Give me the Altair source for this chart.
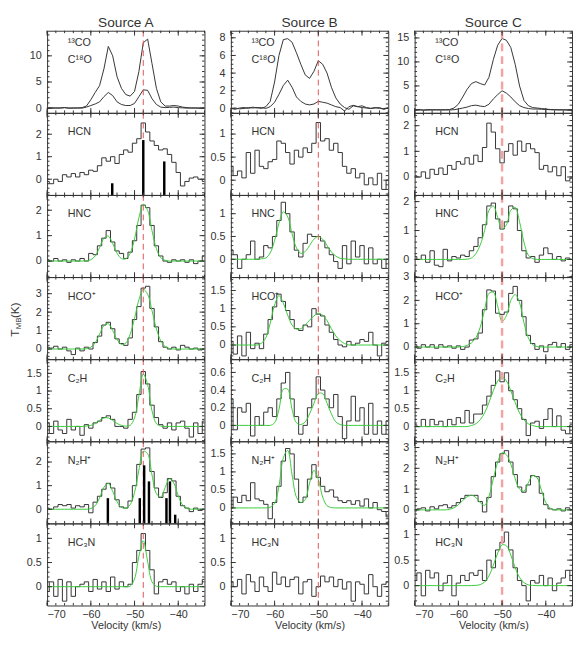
import altair as alt
import numpy as np
import pandas as pd

# channel centres (km/s)
VEL = list(range(-70, -33))

# ---------------- Source A ----------------
A_13CO = [0.0, 0.1, 0.0, 0.05, 0.1, 0.0, 0.05, 0.0, 0.1, 0.4,
          1.6, 3.0, 4.3, 7.5, 11.8, 10.0, 6.0, 3.8, 2.6, 2.3,
          3.2, 7.0, 12.5, 13.2, 8.5, 3.8, 1.2, 0.4, 0.4, 0.5,
          0.4, 0.2, 0.1, 0.0, 0.05, 0.0, 0.0]
A_C18O = [0.0, -0.05, 0.05, 0.0, 0.1, 0.0, 0.0, 0.05, 0.0, 0.2,
          0.5, 0.8, 1.2, 2.2, 3.0, 2.4, 1.2, 0.7, 0.5, 0.5,
          0.9, 2.2, 3.5, 3.4, 1.8, 0.7, 0.2, 0.1, 0.15, 0.2,
          0.1, 0.05, 0.0, 0.05, 0.0, 0.0, 0.05]
A_HCN = [-0.1, -0.2, 0.0, -0.1, 0.2, 0.1, 0.25, 0.1, 0.3, 0.2,
         0.4, 0.35, 0.6, 0.95, 0.8, 1.0, 0.7, 1.1, 1.3, 1.2,
         1.6, 1.8, 2.5, 2.1, 1.7, 1.5, 1.3, 1.35, 1.1, 0.75,
         0.3, -0.3, -0.1, 0.05, 0.1, 0.0, -0.1]
A_HNC = [0.05, 0.0, 0.1, 0.0, 0.05, -0.05, 0.05, 0.0, 0.1, 0.0,
         0.3, 0.25, 0.6, 0.9, 1.2, 0.75, 0.4, 0.3, 0.1, 0.35,
         0.8, 1.4, 2.2, 2.1, 1.4, 0.6, 0.2, 0.0, -0.05, 0.05,
         0.0, 0.05, -0.05, 0.05, -0.1, 0.0, 0.2]
A_HNC_FIT = [0, 0, 0, 0, 0, 0, 0, 0, 0, 0.01,
             0.05, 0.2, 0.53, 0.9, 0.98, 0.69, 0.31, 0.1, 0.09, 0.3,
             0.87, 1.7, 2.23, 1.99, 1.19, 0.49, 0.13, 0.03, 0, 0,
             0, 0, 0, 0, 0, 0, 0]
A_HCOP = [0.1, 0.05, 0.15, 0.0, 0.1, -0.1, -0.3, 0.05, -0.1, 0.1,
          0.0, 0.35, 0.7, 1.3, 1.45, 1.1, 0.55, 0.3, 0.2, 0.6,
          1.6, 2.3, 3.3, 3.4, 2.2, 1.2, 0.4, 0.1, 0.0, 0.1,
          -0.05, 0.2, 0.1, 0.0, 0.05, -0.05, 0.0]
A_HCOP_FIT = [0, 0, 0, 0, 0, 0, 0, 0, 0, 0.02,
              0.1, 0.34, 0.8, 1.27, 1.37, 1.01, 0.52, 0.25, 0.32, 0.8,
              1.66, 2.67, 3.23, 2.97, 2.08, 1.1, 0.44, 0.13, 0.03, 0,
              0, 0, 0, 0, 0, 0, 0]
A_C2H = [0.1, -0.2, 0.15, -0.1, -0.2, 0.2, -0.1, 0.0, -0.25, 0.05,
         -0.05, 0.1, 0.15, 0.25, 0.3, 0.2, 0.0, 0.0, -0.05, 0.2,
         0.4, 0.9, 1.55, 1.2, 0.6, 0.25, 0.05, -0.05, 0.1, -0.1,
         0.1, 0.15, -0.05, -0.3, 0.1, -0.2, 0.15]
A_C2H_FIT = [0, 0, 0, 0, 0, 0, 0, 0, 0, 0.01,
             0.03, 0.085, 0.17, 0.24, 0.24, 0.17, 0.085, 0.03, 0.01, 0.03,
             0.24, 0.87, 1.48, 1.18, 0.44, 0.08, 0.01, 0, 0, 0,
             0, 0, 0, 0, 0, 0, 0]
A_N2HP = [0.05, 0.0, 0.1, 0.2, 0.15, 0.2, 0.05, 0.15, 0.1, 0.2,
          -0.15, 0.3, 0.55, 0.85, 1.1, 0.9, 0.4, 0.1, 0.05, 0.35,
          1.0, 1.9, 2.55, 2.6, 1.6, 0.9, 0.5, 0.7, 1.3, 1.2,
          0.55, 0.15, 0.05, -0.1, 0.05, -0.05, 0.0]
A_N2HP_FIT = [0, 0, 0, 0, 0, 0, 0, 0, 0, 0,
              0.03, 0.15, 0.48, 0.93, 1.09, 0.76, 0.32, 0.08, 0.05, 0.19,
              0.71, 1.66, 2.46, 2.35, 1.45, 0.66, 0.52, 0.92, 1.29, 1.1,
              0.57, 0.18, 0.03, 0, 0, 0, 0]
A_HC3N = [-0.1, 0.1, -0.2, 0.15, -0.3, 0.1, -0.2, 0.0, 0.05, 0.1,
          -0.1, 0.15, -0.05, 0.1, -0.1, 0.2, -0.05, 0.1, 0.0, 0.05,
          0.5, 0.75, 1.1, 0.75, 0.35, -0.15, 0.1, 0.15, 0.05, 0.1,
          -0.1, 0.0, -0.15, 0.05, -0.1, 0.05, 0.15]
A_HC3N_FIT = [0, 0, 0, 0, 0, 0, 0, 0, 0, 0,
              0, 0, 0, 0, 0, 0, 0, 0, 0, 0.01,
              0.16, 0.63, 0.95, 0.52, 0.1, 0.01, 0, 0, 0, 0,
              0, 0, 0, 0, 0, 0, 0]
# hyperfine components (velocity, height)
A_HCN_HFS_V = [-55.1, -48.0, -43.2]
A_HCN_HFS_T = [-0.18, 1.74, 0.79]
A_N2HP_HFS_V = [-56.1, -48.8, -47.8, -46.7, -42.7, -41.9, -40.7]
A_N2HP_HFS_T = [0.47, 0.47, 1.86, 1.18, 0.47, 1.18, -0.23]

# ---------------- Source B ----------------
B_13CO = [0.0, 0.05, -0.05, 0.0, 0.1, 0.05, 0.1, 0.0, 0.2, 0.8,
          3.0, 6.0, 7.8, 7.9, 7.5, 6.3, 5.0, 3.8, 3.4, 4.2,
          5.4, 5.0, 4.0, 2.4, 1.2, 0.5, 0.1, -0.1, 0.3, 0.2,
          0.1, 0.05, 0.0, 0.1, 0.0, -0.05, 0.1]
B_C18O = [0.0, -0.1, 0.05, 0.1, 0.0, 0.15, 0.05, 0.1, 0.0, 0.2,
          0.7, 1.6, 2.6, 3.2, 2.4, 1.3, 0.8, 0.5, 0.4, 0.5,
          0.8, 0.7, 0.6, 0.4, 0.2, 0.1, -0.3, 0.2, 0.35, 0.2,
          0.3, 0.1, 0.0, 0.05, 0.1, -0.1, 0.05]
B_HCN = [0.3, 0.1, 0.2, 0.05, 0.6, 0.15, 0.65, 0.3, 0.25, 0.4,
         0.45, 0.85, 0.8, 0.6, 0.35, 0.65, 0.5, 0.7, 0.6, 0.8,
         1.25, 0.85, 0.9, 0.65, 0.8, 0.6, 0.3, 0.15, 0.25, 0.05,
         0.15, -0.1, 0.05, -0.1, 0.15, -0.2, 0.0]
B_HNC = [0.2, 0.1, -0.2, 0.0, 0.1, 0.4, 0.0, 0.05, 0.3, 0.25,
         0.5, 0.85, 1.25, 1.0, 0.6, 0.2, 0.05, 0.35, 0.55, 0.5,
         0.5, 0.4, 0.25, 0.1, -0.05, -0.2, 0.3, -0.1, 0.4, 0.05,
         0.3, -0.1, 0.25, -0.1, 0.0, -0.2, 0.0]
B_HNC_FIT = [0, 0, 0, 0, 0, 0, 0, 0.01, 0.03, 0.14,
             0.41, 0.79, 1.04, 0.93, 0.56, 0.25, 0.13, 0.17, 0.3, 0.44,
             0.5, 0.44, 0.3, 0.16, 0.07, 0.02, 0.01, 0, 0, 0,
             0, 0, 0, 0, 0, 0, 0]
B_HCOP = [0.1, -0.25, 0.25, -0.3, 0.35, -0.1, 0.05, -0.1, 0.3, 0.7,
          1.05, 1.4, 1.2, 0.95, 0.7, 0.45, 0.4, 0.55, 0.5, 1.0,
          0.85, 0.8, 0.55, 0.35, 0.15, 0.0, -0.05, 0.1, 0.0, 0.05,
          0.15, 0.1, 0.35, 0.0, -0.3, 0.05, 0.1]
B_HCOP_FIT = [0, 0, 0, 0, 0, 0, 0, 0.05, 0.2, 0.6,
              1.1, 1.36, 1.15, 0.82, 0.55, 0.44, 0.45, 0.55, 0.68, 0.8,
              0.87, 0.82, 0.67, 0.45, 0.25, 0.12, 0.04, 0, 0, 0,
              0, 0, 0, 0, 0, 0, 0]
B_C2H = [0.3, -0.05, 0.2, 0.15, 0.25, -0.12, 0.1, 0.0, 0.15, 0.2,
         0.1, 0.3, 0.48, 0.6, 0.3, 0.1, -0.1, 0.0, 0.2, 0.3,
         0.55, 0.4, 0.3, 0.2, 0.35, 0.1, -0.15, 0.05, 0.33, 0.05,
         0.2, -0.1, 0.25, -0.1, 0.05, -0.1, 0.05]
B_C2H_FIT = [0, 0, 0, 0, 0, 0, 0, 0, 0, 0,
             0.03, 0.18, 0.41, 0.41, 0.18, 0.03, 0.01, 0.04, 0.13, 0.25,
             0.36, 0.36, 0.25, 0.13, 0.04, 0.01, 0, 0, 0, 0,
             0, 0, 0, 0, 0, 0, 0]
B_N2HP = [0.0, 0.3, 0.15, 0.35, 0.2, 0.7, 0.25, 0.2, 0.1, -0.3,
          0.15, 0.6, 1.3, 1.65, 1.5, 0.8, 0.15, 0.3, 0.8, 1.2,
          0.85, 0.6, 0.45, 0.5, 0.3, 0.2, 0.15, 0.2, 0.1, 0.2,
          0.05, 0.25, 0.0, 0.15, -0.05, -0.1, -0.25]
B_N2HP_FIT = [0, 0, 0, 0, 0, 0, 0, 0, 0, 0.02,
              0.13, 0.6, 1.39, 1.6, 0.92, 0.3, 0.15, 0.23, 0.69, 1.04,
              0.79, 0.3, 0.06, 0.01, 0, 0, 0, 0, 0, 0,
              0, 0, 0, 0, 0, 0, 0]
B_HC3N = [0.1, 0.0, 0.15, -0.15, 0.25, 0.1, -0.1, 0.2, 0.0, -0.1,
          0.3, 0.05, 0.2, 0.0, 0.15, 0.2, -0.15, 0.1, 0.15, -0.2,
          0.0, 0.22, 0.1, 0.2, 0.0, 0.15, -0.05, 0.1, -0.3, 0.1,
          0.05, -0.15, 0.25, 0.0, -0.2, 0.05, 0.1]

# ---------------- Source C ----------------
C_13CO = [0.0, 0.05, -0.05, 0.1, 0.0, 0.05, 0.0, 0.05, 0.1, 0.4,
          1.2, 2.7, 4.3, 5.5, 5.9, 5.5, 5.2, 6.8, 10.5, 13.5,
          14.9, 14.5, 13.0, 9.5, 5.0, 2.0, 0.9, 0.5, 0.4, 0.3,
          0.2, 0.1, 0.1, 0.0, 0.05, 0.0, 0.0]
C_C18O = [0.0, 0.05, 0.0, -0.05, 0.05, 0.0, 0.05, 0.0, 0.0, 0.05,
          0.2, 0.4, 0.6, 0.9, 1.0, 0.8, 0.7, 1.2, 2.3, 3.2,
          4.0, 3.5, 2.7, 1.7, 0.9, 0.5, 0.3, 0.2, 0.2, 0.15,
          0.1, 0.05, 0.0, 0.05, 0.0, 0.0, 0.0]
C_HCN = [0.05, 0.0, 0.2, -0.05, 0.3, 0.1, 0.35, 0.1, 0.45, 0.3,
         0.6, 0.5, 0.75, 0.5, 0.85, 0.6, 1.15, 2.1, 1.75, 1.1,
         0.55, 1.0, 1.3, 0.85, 1.4, 1.0, 1.3, 1.1, 0.95, 0.3,
         0.45, 0.2, 0.4, 0.05, 0.4, -0.15, -0.05]
C_HNC = [0.1, 0.0, 0.15, -0.1, 0.3, -0.2, -0.25, 0.35, -0.05, 0.1,
         0.05, 0.15, 0.1, 0.3, 0.45, 0.75, 1.2, 1.85, 1.95, 1.4,
         1.05, 1.3, 1.85, 1.75, 1.0, 0.3, 0.05, 0.1, -0.1, 0.15,
         0.4, 0.2, 0.0, 0.1, -0.05, 0.05, 0.0]
C_HNC_FIT = [0, 0, 0, 0, 0, 0, 0, 0, 0, 0,
             0, 0, 0.01, 0.05, 0.2, 0.5, 1.0, 1.7, 1.85, 1.45,
             1.05, 1.2, 1.7, 1.8, 1.3, 0.6, 0.15, 0.03, 0, 0,
             0, 0, 0, 0, 0, 0, 0]
C_HCOP = [0.1, -0.05, 0.1, 0.0, 0.1, -0.05, 0.1, 0.0, 0.05, -0.05,
          0.05, -0.1, 0.0, 0.3, 0.35, 0.6, 1.6, 2.45, 2.4, 1.45,
          1.4, 1.5, 2.3, 2.6, 2.0, 1.3, 0.5, 0.15, -0.1, 0.05,
          -0.2, 0.1, 0.2, 0.0, 0.15, -0.1, 0.1]
C_HCOP_FIT = [0, 0, 0, 0, 0, 0, 0, 0, 0, 0,
              0, 0.02, 0.07, 0.18, 0.4, 0.85, 1.6, 2.3, 2.35, 1.75,
              1.1, 1.35, 2.0, 2.25, 1.9, 1.05, 0.4, 0.1, 0.02, 0,
              0, 0, 0, 0, 0, 0, 0]
C_C2H = [0.05, 0.0, 0.2, 0.0, 0.2, 0.05, 0.15, 0.0, 0.2, 0.05,
         0.25, 0.1, 0.45, 0.1, 0.35, 0.35, 0.6, 0.85, 1.15, 1.55,
         1.25, 1.5, 1.0, 0.75, 0.5, 0.2, -0.25, 0.1, 0.15, -0.05,
         0.2, 0.5, 0.0, 0.3, -0.1, -0.2, 0.05]
C_C2H_FIT = [0, 0, 0, 0, 0, 0, 0, 0, 0, 0,
             0, 0, 0, 0.03, 0.08, 0.19, 0.38, 0.67, 1.0, 1.27,
             1.38, 1.27, 1.0, 0.67, 0.38, 0.19, 0.08, 0.03, 0, 0,
             0, 0, 0, 0, 0, 0, 0]
C_N2HP = [-0.05, 0.05, 0.1, -0.05, 0.15, 0.05, 0.2, 0.25, 0.1, 0.2,
          0.35, 0.55, 0.7, 0.7, 0.7, 0.4, -0.1, 0.6, 1.6, 2.3,
          2.7, 2.85, 2.3, 1.7, 1.1, 0.85, 1.2, 1.65, 1.6, 0.8,
          0.25, 0.05, 0.0, 0.05, -0.05, 0.1, 0.0]
C_N2HP_FIT = [0, 0, 0, 0, 0, 0, 0, 0, 0.03, 0.1,
              0.25, 0.45, 0.63, 0.7, 0.6, 0.35, 0.22, 0.65, 1.5, 2.3,
              2.75, 2.65, 2.2, 1.5, 1.0, 0.9, 1.3, 1.65, 1.55, 0.95,
              0.35, 0.08, 0.01, 0, 0, 0, 0]
C_HC3N = [0.1, 0.25, -0.2, 0.3, 0.15, 0.25, -0.1, 0.05, 0.2, -0.2,
          0.05, 0.2, 0.1, 0.25, 0.2, 0.3, 0.1, 0.5, 0.35, 0.7,
          0.85, 1.05, 0.7, 0.35, 0.1, 0.0, -0.3, 0.1, 0.05, 0.2,
          0.0, 0.15, -0.1, 0.05, 0.15, 0.3, 0.1]
C_HC3N_FIT = [0, 0, 0, 0, 0, 0, 0, 0, 0, 0,
              0, 0, 0, 0, 0.005, 0.02, 0.07, 0.19, 0.4, 0.64,
              0.8, 0.78, 0.6, 0.35, 0.16, 0.06, 0.016, 0.004, 0, 0,
              0, 0, 0, 0, 0, 0, 0]

# ---------------- axes / labels ----------------
SOURCES = ["Source A", "Source B", "Source C"]
VLSR = [-48.0, -50.0, -50.0]
ROW_LABELS = [["¹³CO", "C¹⁸O"], ["HCN"], ["HNC"], ["HCO⁺"], ["C₂H"], ["N₂H⁺"], ["HC₃N"]]
X_DOMAIN = [-70, -34]
X_MAJOR = [-70, -60, -50, -40]
X_MINOR = list(range(-70, -33, 2))

Y_DOMAINS = [
    [[-0.9, 14.8], [-0.7, 2.95], [-0.63, 2.6], [-0.55, 3.9], [-0.42, 1.9], [-0.6, 2.88], [-0.39, 1.31]],
    [[-0.5, 8.8], [-0.32, 1.46], [-0.39, 1.41], [-0.39, 1.87], [-0.18, 0.75], [-0.43, 1.85], [-0.39, 1.31]],
    [[-0.6, 16.5], [-0.7, 2.5], [-0.61, 2.23], [-0.52, 3.0], [-0.41, 1.88], [-0.65, 3.3], [-0.39, 1.22]],
]
Y_MAJOR = [
    [[0, 5, 10], [0, 1, 2], [0, 1, 2], [0, 1, 2, 3], [0, 0.5, 1, 1.5], [0, 1, 2], [0, 0.5, 1]],
    [[0, 2, 4, 6, 8], [0, 0.5, 1], [0, 0.5, 1], [0, 0.5, 1, 1.5], [0, 0.2, 0.4, 0.6], [0, 0.5, 1, 1.5], [0, 0.5, 1]],
    [[0, 5, 10, 15], [0, 1, 2], [0, 1, 2], [0, 1, 2, 3], [0, 0.5, 1, 1.5], [0, 1, 2, 3], [0, 0.5, 1]],
]
Y_MINOR_STEP = [
    [1, 0.2, 0.2, 0.2, 0.1, 0.2, 0.1],
    [0.5, 0.1, 0.1, 0.1, 0.05, 0.1, 0.1],
    [1, 0.2, 0.2, 0.2, 0.1, 0.2, 0.1],
]

SPECTRA = [
    [[A_13CO, A_C18O], [A_HCN], [A_HNC], [A_HCOP], [A_C2H], [A_N2HP], [A_HC3N]],
    [[B_13CO, B_C18O], [B_HCN], [B_HNC], [B_HCOP], [B_C2H], [B_N2HP], [B_HC3N]],
    [[C_13CO, C_C18O], [C_HCN], [C_HNC], [C_HCOP], [C_C2H], [C_N2HP], [C_HC3N]],
]
FITS = [
    [None, None, A_HNC_FIT, A_HCOP_FIT, A_C2H_FIT, A_N2HP_FIT, A_HC3N_FIT],
    [None, None, B_HNC_FIT, B_HCOP_FIT, B_C2H_FIT, B_N2HP_FIT, None],
    [None, None, C_HNC_FIT, C_HCOP_FIT, C_C2H_FIT, C_N2HP_FIT, C_HC3N_FIT],
]
HFS = {(0, 1): (A_HCN_HFS_V, A_HCN_HFS_T), (0, 5): (A_N2HP_HFS_V, A_N2HP_HFS_T)}

for col in SPECTRA:
    for row in col:
        for s in row:
            assert len(s) == len(VEL)
for col in FITS:
    for f in col:
        if f is not None:
            assert len(f) == len(VEL)

# ---------------- style ----------------
W, H = 161, 84
INK = "#333333"
FIT_COLOR = "#38cc38"
FONT = "Liberation Sans"
MAJ, MIN = 5, 2.5
RULE_STYLE = [
    dict(color="#e05555", strokeWidth=1, strokeDash=[6, 4]),
    dict(color="#e05555", strokeWidth=1, strokeDash=[6, 4]),
    dict(color="#f4a3a3", strokeWidth=2.5, strokeDash=[8, 5]),
]


def minor_ticks(dom, step):
    start = np.ceil(dom[0] / step - 1e-9) * step
    vals = np.arange(start, dom[1] + 1e-9, step)
    return [round(float(v), 4) for v in vals]


def tick_layers(xs, ys, major_y, minor_y):
    """Inward-pointing frame ticks, placed through the panel scales."""
    out = []
    for vals, size in [(X_MAJOR, MAJ), (X_MINOR, MIN)]:
        tdf = pd.DataFrame({"v": vals})
        for y0, y1 in [(H, H - size), (0, size)]:
            out.append(alt.Chart(tdf).mark_rule(color=INK, strokeWidth=1).encode(
                x=alt.X("v:Q", scale=xs, axis=None), y=alt.value(y0), y2=alt.value(y1)))
    for vals, size in [(major_y, MAJ), (minor_y, MIN)]:
        tdf = pd.DataFrame({"T": vals})
        for x0, x1 in [(0, size), (W, W - size)]:
            out.append(alt.Chart(tdf).mark_rule(color=INK, strokeWidth=1).encode(
                y=alt.Y("T:Q", scale=ys, axis=None), x=alt.value(x0), x2=alt.value(x1)))
    return out


def text_layer(txt, x, y, size=11, align="left", angle=None):
    kw = dict(align=align, baseline="middle", fontSize=size, font=FONT, color=INK)
    if angle is not None:
        kw["angle"] = angle
    return alt.Chart(pd.DataFrame({"t": [txt]})).mark_text(**kw).encode(
        x=alt.value(x), y=alt.value(y), text="t:N")


def panel(ci, ri):
    dom = Y_DOMAINS[ci][ri]
    major = Y_MAJOR[ci][ri]
    minor = minor_ticks(dom, Y_MINOR_STEP[ci][ri])
    xs = alt.Scale(domain=X_DOMAIN, nice=False, zero=False)
    ys = alt.Scale(domain=dom, nice=False, zero=False)
    bottom = ri == 6
    names = ["13CO", "C18O"] if ri == 0 else ["obs"]
    df = pd.concat([pd.DataFrame({"v": VEL, "T": s, "s": n})
                    for s, n in zip(SPECTRA[ci][ri], names)], ignore_index=True)
    base = alt.Chart(df)

    x_axis = dict(orient="bottom", values=X_MAJOR, labels=bottom, ticks=False, domain=False,
                  grid=False, format="d", labelPadding=3, titlePadding=1)
    x_axis["title"] = "Velocity (km/s)" if bottom else None
    layers = [base.mark_line(interpolate="linear" if ri == 0 else "step", color=INK,
                             strokeWidth=1, clip=True).encode(
        x=alt.X("v:Q", scale=xs, axis=alt.Axis(**x_axis)),
        y=alt.Y("T:Q", scale=ys, axis=alt.Axis(orient="left", values=major, format=".2~f",
                                                ticks=False, domain=False, grid=False,
                                                title=None, labelPadding=6)),
        detail="s:N")]

    # companion axes on the opposite sides (keeps the labelled axes independent)
    layers.append(base.mark_line(opacity=0).encode(
        x=alt.X("v:Q", scale=xs, axis=alt.Axis(orient="top", values=X_MAJOR, labels=False,
                                                ticks=False, domain=False, grid=False, title=None,
                                                minExtent=0, maxExtent=0)),
        y=alt.Y("T:Q", scale=ys, axis=alt.Axis(orient="right", values=major, labels=False,
                                                ticks=False, domain=False, grid=False, title=None,
                                                minExtent=0, maxExtent=0)),
        detail="s:N"))

    fit = FITS[ci][ri]
    if fit is not None:
        fdf = pd.DataFrame({"v": VEL, "T": fit})
        layers.append(alt.Chart(fdf).mark_line(interpolate="catmull-rom", color=FIT_COLOR,
                                               strokeWidth=1, clip=True).encode(
            x=alt.X("v:Q", scale=xs, axis=None), y=alt.Y("T:Q", scale=ys, axis=None)))

    rdf = pd.DataFrame({"v": [VLSR[ci]]})
    layers.append(alt.Chart(rdf).mark_rule(**RULE_STYLE[ci]).encode(
        x=alt.X("v:Q", scale=xs, axis=None)))

    if (ci, ri) in HFS:
        hv, ht = HFS[(ci, ri)]
        bdf = pd.DataFrame({"v": hv, "T": ht})
        layers.append(alt.Chart(bdf).mark_rule(color="black", strokeWidth=2.5).encode(
            x=alt.X("v:Q", scale=xs, axis=None), y=alt.Y("T:Q", scale=ys, axis=None),
            y2=alt.value(H)))

    layers += tick_layers(xs, ys, major, minor)

    labs = ROW_LABELS[ri]
    ypos = [13, 30] if ri == 0 else [20]
    for txt, yp in zip(labs, ypos):
        layers.append(text_layer(txt, 21, yp))

    if ri == 0:
        layers.append(text_layer(SOURCES[ci], W / 2, -8, size=14, align="center"))

    if ci == 0 and ri == 3:
        layers.append(text_layer("T", -33, 61, size=12, angle=270))
        layers.append(text_layer("MB", -28.5, 53.5, size=8, angle=270))
        layers.append(text_layer("(K)", -33, 42, size=12, angle=270))

    return alt.layer(*layers).properties(width=W, height=H)


panels = [panel(ci, ri) for ri in range(7) for ci in range(3)]
chart = alt.concat(*panels, columns=3, spacing={"row": 0, "column": 27},
                   bounds="flush").properties(padding=0)
chart = chart.configure_view(stroke=INK, strokeWidth=1).configure_axis(
    labelFont=FONT, titleFont=FONT, labelFontSize=11, titleFontSize=11,
    titleFontWeight="normal", labelColor=INK, titleColor=INK)

chart.save("out.html", embed_options={"renderer": "svg", "actions": False})
